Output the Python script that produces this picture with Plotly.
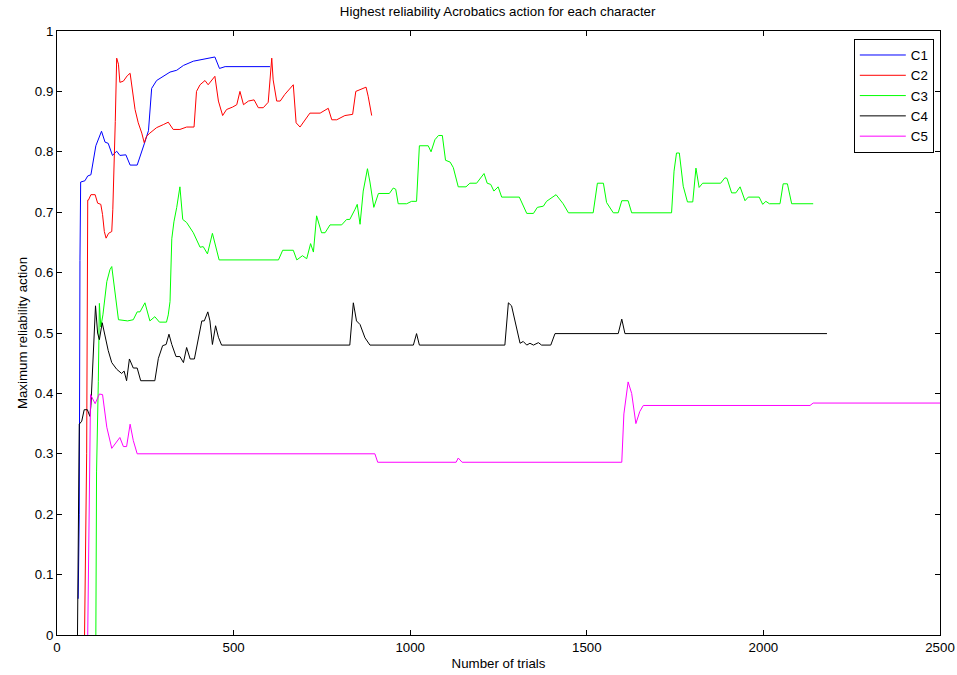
import plotly.graph_objects as go

# ---- data ----
c1_x = [60, 63, 65, 67, 79, 87, 96, 101, 110, 126, 136, 145, 157, 169, 178, 195, 207, 227, 235, 247,
        259, 268, 282, 301, 320, 339, 358, 386, 414, 447, 460, 476, 603]
c1_y = [0.06, 0.2, 0.62, 0.75, 0.752, 0.76, 0.762, 0.777, 0.81, 0.834, 0.816, 0.814, 0.794, 0.801, 0.794, 0.795, 0.778, 0.778, 0.791, 0.813,
        0.835, 0.905, 0.918, 0.925, 0.932, 0.935, 0.943, 0.95, 0.953, 0.957, 0.938, 0.941, 0.941]

c2_x = [78, 80, 84, 87, 89, 96, 108, 115, 124, 129,
        134, 139, 146, 155, 158, 165, 169, 174, 178, 188,
        199, 207, 211, 221, 230, 240, 247, 254, 263, 282,
        301, 315, 329, 348, 367, 388, 395, 405, 419, 428,
        447, 457, 469, 480, 497, 509, 518, 528, 542, 558,
        570, 584, 598, 603, 608, 612, 622, 632, 645, 669,
        677, 688, 716, 745, 768, 778, 792, 815, 837, 846,
        858, 875, 881, 891]
c2_y = [0, 0.12, 0.3, 0.72, 0.72, 0.729, 0.729, 0.715, 0.713, 0.696,
        0.668, 0.657, 0.665, 0.668, 0.704, 0.85, 0.955, 0.945, 0.915, 0.917,
        0.926, 0.93, 0.914, 0.87, 0.848, 0.831, 0.815, 0.826, 0.831, 0.84,
        0.845, 0.849, 0.837, 0.837, 0.841, 0.841, 0.9, 0.911, 0.918, 0.911,
        0.925, 0.884, 0.86, 0.87, 0.874, 0.878, 0.9, 0.878, 0.884, 0.886,
        0.873, 0.873, 0.882, 0.919, 0.955, 0.919, 0.884, 0.884, 0.895, 0.911,
        0.848, 0.841, 0.864, 0.864, 0.872, 0.853, 0.853, 0.86, 0.862, 0.9,
        0.903, 0.907, 0.892, 0.86]

c3_x = [110, 112, 117, 120, 124, 130, 141, 150, 155, 159,
        174, 200, 216, 227, 235, 249, 263, 277, 290, 310,
        315, 320, 325, 331, 339, 348, 356, 367, 386, 405,
        414, 426, 440, 459, 627, 639, 669, 679, 695, 707,
        718, 726, 735, 749, 759, 773, 806, 820, 829, 844,
        850, 858, 867, 879, 886, 897, 910, 941, 952, 959,
        966, 990, 1004, 1018, 1026, 1051, 1059, 1070, 1080, 1091,
        1100, 1113, 1122, 1136, 1158, 1169, 1188, 1209, 1218, 1228,
        1237, 1249, 1259, 1309, 1330, 1349, 1360, 1377, 1386, 1413,
        1433, 1448, 1518, 1530, 1547, 1556, 1575, 1589, 1599, 1617,
        1627, 1740, 1747, 1754, 1762, 1773, 1785, 1800, 1809, 1818,
        1828, 1879, 1891, 1897, 1910, 1922, 1934, 1948, 1957, 1988,
        1998, 2007, 2017, 2047, 2056, 2068, 2080, 2141]
c3_y = [0, 0.27, 0.42, 0.549, 0.51, 0.53, 0.585, 0.605, 0.61, 0.59,
        0.522, 0.52, 0.522, 0.535, 0.535, 0.55, 0.52, 0.527, 0.518, 0.518,
        0.53, 0.552, 0.656, 0.684, 0.708, 0.742, 0.688, 0.683, 0.666, 0.642,
        0.643, 0.631, 0.665, 0.621, 0.621, 0.637, 0.637, 0.621, 0.628, 0.623,
        0.648, 0.634, 0.694, 0.666, 0.666, 0.679, 0.679, 0.688, 0.688, 0.705,
        0.713, 0.68, 0.735, 0.772, 0.75, 0.708, 0.731, 0.731, 0.74, 0.738,
        0.714, 0.714, 0.718, 0.718, 0.81, 0.81, 0.8, 0.82, 0.827, 0.827,
        0.786, 0.783, 0.774, 0.742, 0.742, 0.748, 0.748, 0.764, 0.748, 0.746,
        0.735, 0.742, 0.725, 0.725, 0.698, 0.698, 0.708, 0.71, 0.718, 0.729,
        0.714, 0.699, 0.699, 0.748, 0.748, 0.716, 0.699, 0.699, 0.719, 0.719,
        0.699, 0.699, 0.768, 0.798, 0.798, 0.743, 0.717, 0.717, 0.773, 0.741,
        0.748, 0.748, 0.757, 0.756, 0.732, 0.732, 0.742, 0.719, 0.725, 0.725,
        0.713, 0.718, 0.714, 0.714, 0.747, 0.747, 0.714, 0.714]

c4_x = [58, 60, 62, 63, 70, 77, 86, 93, 96, 100,
        105, 109, 115, 120, 128, 136, 145, 155, 169, 183,
        190, 197, 205, 216, 227, 237, 277, 287, 299, 309,
        317, 325, 337, 348, 358, 367, 377, 389, 410, 417,
        427, 433, 440, 449, 457, 466, 829, 839, 848, 858,
        872, 886, 1009, 1018, 1026, 1268, 1278, 1287, 1299, 1311,
        1320, 1330, 1339, 1349, 1363, 1372, 1398, 1410, 1589, 1599,
        1608, 2180]
c4_y = [0, 0.17, 0.29, 0.349, 0.354, 0.373, 0.373, 0.362, 0.38, 0.426,
        0.475, 0.545, 0.5, 0.489, 0.517, 0.495, 0.471, 0.451, 0.44, 0.433,
        0.437, 0.421, 0.457, 0.442, 0.442, 0.421, 0.421, 0.458, 0.479, 0.481,
        0.498, 0.481, 0.461, 0.461, 0.451, 0.476, 0.457, 0.457, 0.52, 0.52,
        0.535, 0.52, 0.481, 0.512, 0.493, 0.48, 0.48, 0.55, 0.52, 0.514,
        0.492, 0.48, 0.48, 0.499, 0.48, 0.48, 0.55, 0.545, 0.512, 0.483,
        0.486, 0.48, 0.483, 0.48, 0.484, 0.48, 0.48, 0.499, 0.499, 0.523,
        0.499, 0.499]

c5_x = [87, 90, 95, 108, 120, 129, 141, 155, 169, 178,
        188, 197, 207, 216, 227, 900, 908, 1130, 1136, 1147,
        1599, 1605, 1617, 1627, 1639, 1650, 1660, 2132, 2141, 2500]
c5_y = [0, 0.15, 0.398, 0.383, 0.399, 0.398, 0.344, 0.309, 0.319, 0.327,
        0.312, 0.312, 0.349, 0.322, 0.3, 0.3, 0.286, 0.286, 0.293, 0.286,
        0.286, 0.366, 0.419, 0.4, 0.35, 0.37, 0.38, 0.38, 0.384, 0.384]

names = ["C1", "C2", "C3", "C4", "C5"]
colors = ["#0000ff", "#ff0000", "#00ff00", "#000000", "#ff00ff"]
series = [(c1_x, c1_y), (c2_x, c2_y), (c3_x, c3_y), (c4_x, c4_y), (c5_x, c5_y)]

x_ticks = [0, 500, 1000, 1500, 2000, 2500]
y_ticks = [0, 0.1, 0.2, 0.3, 0.4, 0.5, 0.6, 0.7, 0.8, 0.9, 1]
y_tick_text = ["0", "0.1", "0.2", "0.3", "0.4", "0.5", "0.6", "0.7", "0.8", "0.9", "1"]

FONT = "Liberation Sans, Arial, sans-serif"
FS = 13.3

fig = go.Figure()
for (xs, ys), name, col in zip(series, names, colors):
    fig.add_trace(go.Scatter(x=xs, y=ys, mode="lines", name=name,
                             line=dict(color=col, width=1)))

axis_common = dict(showgrid=False, zeroline=False, showline=True, linecolor="black",
                   linewidth=1, mirror="ticks", ticks="inside", ticklen=5,
                   tickcolor="black", tickwidth=1, automargin=False,
                   tickfont=dict(family=FONT, size=FS, color="black"))

fig.update_layout(
    width=957, height=675,
    margin=dict(l=57, r=17, t=31, b=40),
    paper_bgcolor="white", plot_bgcolor="white",
    font=dict(family=FONT, size=FS, color="black"),
    title=dict(text="Highest reliability Acrobatics action for each character",
               x=0.52, xanchor="center", y=0.99, yanchor="top",
               font=dict(family=FONT, size=FS, color="black")),
    xaxis=dict(range=[0, 2500], tickvals=x_ticks,
               title=dict(text="Number of trials", standoff=4,
                          font=dict(family=FONT, size=FS, color="black")),
               **axis_common),
    yaxis=dict(range=[0, 1], tickvals=y_ticks, ticktext=y_tick_text,
               title=dict(text="Maximum reliability action", standoff=4,
                          font=dict(family=FONT, size=FS, color="black")),
               **axis_common),
    legend=dict(x=0.993, xanchor="right", y=0.987, yanchor="top",
                bgcolor="white", bordercolor="black", borderwidth=1,
                font=dict(family=FONT, size=FS, color="black"),
                itemwidth=46, tracegroupgap=0),
    showlegend=True,
)

fig.write_html("out.html")
